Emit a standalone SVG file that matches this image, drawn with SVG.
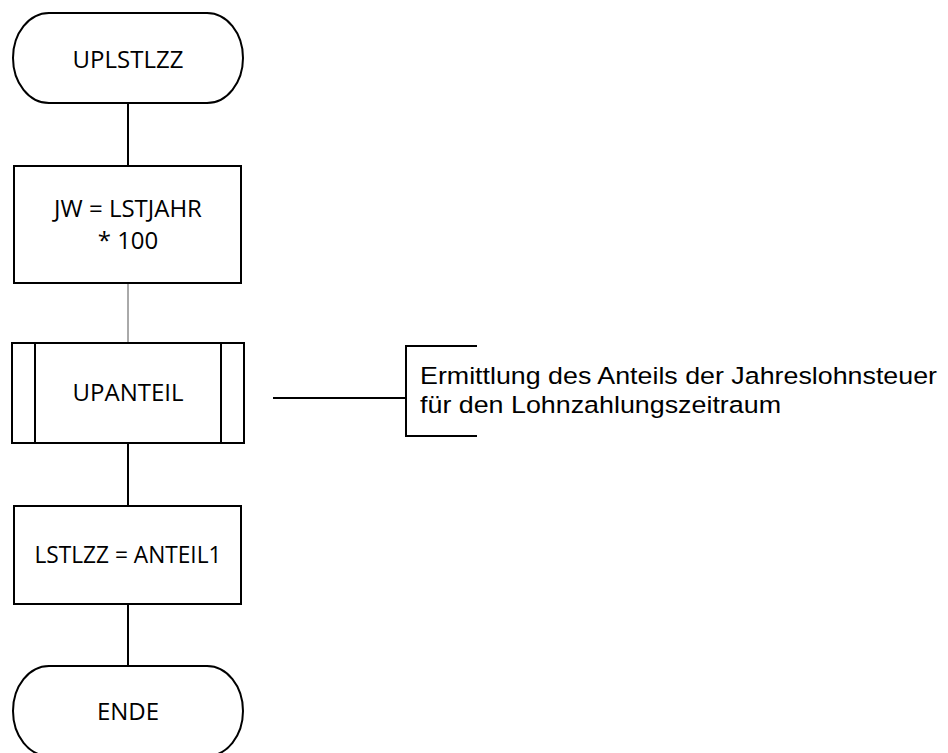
<svg xmlns="http://www.w3.org/2000/svg" width="948" height="753" viewBox="0 0 948 753">
<style>
.s{fill:#fff;stroke:#000;stroke-width:2}
.t{font-family:"Open Sans","Liberation Sans",sans-serif;font-size:24px;fill:#000;text-anchor:middle}
.a{font-family:"Liberation Sans",Arial,sans-serif;font-size:24.5px;fill:#000}
.c{stroke:#000;stroke-width:2;fill:none}
</style>
<rect width="948" height="753" fill="#fff"/>
<g id="connectors">
<line class="c" x1="128" y1="103" x2="128" y2="166"/>
<line x1="128" y1="283" x2="128" y2="343" stroke="#555" stroke-width="1"/>
<line class="c" x1="128" y1="443" x2="128" y2="506"/>
<line class="c" x1="128" y1="604" x2="128" y2="666"/>
<line class="c" x1="273" y1="398" x2="406" y2="398"/>
</g>
<g id="start">
<path class="s" d="M49 13 H207 A36 45 0 0 1 207 103 H49 A36 45 0 0 1 49 13 Z"/>
<text class="t" x="128" y="68">UPLSTLZZ</text>
</g>
<g id="jw">
<rect class="s" x="14" y="166" width="227" height="117"/>
<text class="t" x="128" y="217">JW = LSTJAHR</text>
<text class="t" x="128" y="249">* 100</text>
</g>
<g id="upanteil">
<rect class="s" x="12" y="343" width="232" height="100"/>
<line class="c" x1="35" y1="343" x2="35" y2="443"/>
<line class="c" x1="221" y1="343" x2="221" y2="443"/>
<text class="t" x="128" y="401">UPANTEIL</text>
</g>
<g id="annotation">
<path class="c" d="M477 346 H406 V436 H477"/>
<text class="a" x="420" y="384" textLength="517" lengthAdjust="spacingAndGlyphs">Ermittlung des Anteils der Jahreslohnsteuer</text>
<text class="a" x="420" y="413" textLength="361" lengthAdjust="spacingAndGlyphs">für den Lohnzahlungszeitraum</text>
</g>
<g id="lstlzz">
<rect class="s" x="14" y="506" width="227" height="98"/>
<text class="t" x="128" y="563" textLength="187" lengthAdjust="spacingAndGlyphs">LSTLZZ = ANTEIL1</text>
</g>
<g id="ende">
<path class="s" d="M49 666 H207 A36 45 0 0 1 207 756 H49 A36 45 0 0 1 49 666 Z"/>
<text class="t" x="128" y="720">ENDE</text>
</g>
</svg>
